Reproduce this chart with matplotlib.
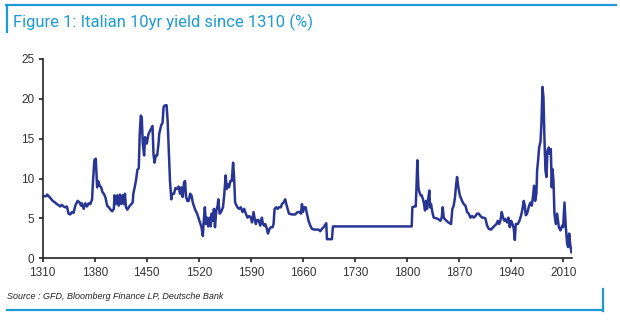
import matplotlib
matplotlib.use("Agg")
import matplotlib.pyplot as plt
from matplotlib.lines import Line2D

# Italian 10yr yield (year, %)
years = [1310, 1315, 1316, 1320, 1323.5, 1326.7, 1329, 1331, 1333.5, 1335.7, 1338, 1340.3,
         1342.5, 1344.8, 1347, 1349.3, 1351.5, 1353.8, 1357, 1359.7, 1361.5, 1362.8, 1365.1,
         1367.4, 1369.6, 1371.9, 1374.1, 1376.4, 1377.7, 1379.5, 1381.4, 1382.3, 1383.2,
         1384.5, 1386.8, 1388.6, 1390.4, 1392.2, 1394.5, 1396.7, 1399, 1401.2, 1403.5,
         1405.7, 1406.6, 1408.4, 1410.3, 1412.1, 1413.9, 1415.7, 1417.5, 1419.3, 1420.6,
         1422, 1423.8, 1426.5, 1429.2, 1431, 1431.9, 1433.7, 1435.5, 1437.4, 1439.2, 1440.5,
         1441.9, 1443.2, 1444.6, 1446.4, 1447.7, 1450, 1452.3, 1454.5, 1457.7, 1459, 1460.4,
         1462.2, 1464, 1465.8, 1466.7, 1469.4, 1471.2, 1472.6, 1474.8, 1476.6, 1478, 1479.4,
         1481.2, 1483, 1483.9, 1486.6, 1488.4, 1490.6, 1492.9, 1494.7, 1496.5, 1498.3,
         1500.1, 1501.5, 1502.8, 1504.6, 1506.4, 1508.3, 1510.1, 1511.9, 1514.6, 1517.7,
         1520.9, 1523.6, 1525.4, 1526.3, 1528.1, 1529.5, 1530.8, 1532.6, 1534.4, 1535.8,
         1537.2, 1539, 1540.3, 1541.7, 1543.5, 1545.3, 1546.2, 1548, 1549.8, 1552.5, 1554.3,
         1556.1, 1557.5, 1558.8, 1560.6, 1562.4, 1564.3, 1566.1, 1567.4, 1568.8, 1571.9,
         1574.2, 1576.5, 1578.7, 1581, 1583.2, 1585.5, 1587.7, 1590, 1591.5, 1593.6, 1595.4,
         1596.7, 1598.1, 1600.3, 1602.6, 1604.8, 1606.2, 1607.9, 1609.3, 1611.5, 1612.9,
         1615.1, 1616.9, 1619.2, 1620.5, 1621.9, 1624.1, 1625.9, 1627.7, 1630.4, 1631.7,
         1634, 1636.2, 1637.6, 1639.4, 1641.2, 1645.2, 1649.7, 1652.8, 1655.5, 1657.3,
         1658.7, 1660, 1661.8, 1663.6, 1665.4, 1667.6, 1669.9, 1672.1, 1675.3, 1681.1,
         1683.3, 1685.6, 1687.8, 1691.4, 1692.3, 1699, 1700.4, 1806.3, 1807.2, 1809.9,
         1811.7, 1812.6, 1813.9, 1815.3, 1816.6, 1818.4, 1819.7, 1821.5, 1822.9, 1824.2,
         1825.6, 1826.9, 1828.7, 1830.1, 1831, 1832.3, 1834.1, 1835.9, 1839.9, 1842.2,
         1844.9, 1846.7, 1848, 1849.4, 1852, 1855.6, 1859.2, 1861, 1862.8, 1864.6, 1866,
         1867.3, 1869.1, 1871, 1874, 1876.3, 1878.6, 1880.8, 1883, 1885.3, 1887.5, 1889.7,
         1892, 1894.2, 1896.5, 1898.7, 1901, 1903.2, 1905.4, 1907.7, 1909.9, 1913.1, 1915.8,
         1918, 1920.3, 1922.1, 1923.9, 1925.6, 1927.4, 1929.2, 1931, 1932.8, 1934.6, 1936.4,
         1938.2, 1940, 1941.8, 1943.6, 1945, 1946.3, 1949, 1951.2, 1953.5, 1955.3, 1957,
         1958.4, 1959.7, 1961.5, 1964.2, 1966, 1967.8, 1969.6, 1970.9, 1972.3, 1974, 1975,
         1976.3, 1977.7, 1979.5, 1980.8, 1982.2, 1983.5, 1984.9, 1986.2, 1987.6, 1988.9,
         1990.7, 1992, 1993.4, 1994.7, 1995.6, 1997, 1998.3, 2000.1, 2001.9, 2004.2, 2006.4,
         2008.6, 2010, 2011.8, 2013.6, 2015.4, 2016.7, 2018.1, 2019.4, 2021.2]
yld = [7.8, 7.8, 8.0, 7.6, 7.2, 7.0, 6.8, 6.7, 6.5, 6.7, 6.5, 6.4,
       6.5, 5.6, 5.5, 5.8, 5.7, 6.6, 7.2, 7.0, 6.6, 6.9, 6.2,
       6.9, 6.5, 6.9, 6.8, 7.4, 9.7, 12.3, 12.5, 10.6, 8.9,
       9.7, 9.1, 8.9, 8.3, 8.1, 7.6, 6.6, 6.4, 6.1, 5.9,
       6.2, 7.9, 6.8, 7.9, 6.6, 8.0, 6.8, 7.9, 6.8, 8.1,
       6.4, 6.1, 6.5, 6.8, 7.0, 8.1, 8.9, 9.8, 11.1, 11.3, 15.6,
       17.9, 17.7, 14.4, 12.9, 15.2, 14.4, 15.6, 16.0, 16.6, 13.1, 12.0,
       12.9, 12.9, 14.4, 15.6, 16.7, 17.0, 19.0, 19.2, 19.2, 17.3, 13.9,
       9.7, 7.4, 8.1, 8.1, 8.8, 8.7, 9.0, 8.1, 8.9, 7.7,
       9.5, 9.7, 7.7, 7.2, 7.2, 8.1, 7.9, 7.0, 6.2, 5.6,
       4.7, 3.9, 2.8, 4.3, 6.4, 4.3, 5.1, 4.0, 5.1, 4.0,
       5.6, 4.7, 6.2, 3.9, 6.0, 6.6, 7.4, 5.6, 5.8, 6.4, 8.1,
       10.4, 8.7, 9.3, 8.9, 9.7, 9.7, 12.0, 10.2, 7.0, 6.4,
       6.2, 6.4, 5.8, 6.2, 5.6, 5.1, 5.3, 5.1, 4.5, 5.8, 4.8,
       4.3, 4.8, 4.8, 4.1, 5.1, 4.3, 4.1, 4.3, 3.7, 3.1,
       3.7, 3.9, 3.9, 4.3, 6.2, 6.4, 6.2, 6.4, 6.4, 6.8,
       7.0, 7.4, 6.8, 6.2, 5.6, 5.5, 5.5, 5.8, 5.8, 5.6,
       6.8, 5.8, 6.4, 6.4, 5.6, 4.7, 4.1, 3.7, 3.6, 3.6,
       3.4, 3.7, 3.9, 4.4, 2.4, 2.4, 4.0, 4.0, 6.4, 6.5,
       6.5, 8.5, 12.3, 8.9, 8.3, 7.9, 7.9, 7.4, 6.8, 6.0,
       7.2, 6.2, 7.6, 8.5, 6.4, 6.8, 5.8, 5.1, 5.0, 4.9,
       4.7, 5.1, 6.4, 5.1, 4.8, 4.5, 4.3, 6.2, 6.6, 7.7, 9.2,
       10.2, 8.9, 7.9, 7.2, 6.8, 6.6, 5.8, 5.6, 5.1, 5.3, 5.1,
       5.3, 5.6, 5.6, 5.3, 5.1, 5.1, 5.0, 4.1, 3.7, 3.6, 3.9,
       4.1, 4.3, 4.7, 4.3, 4.7, 5.8, 5.1, 4.7, 4.9, 4.5, 5.1,
       3.9, 4.7, 4.3, 3.7, 2.3, 4.3, 4.3, 4.7, 5.4, 6.2, 7.2,
       6.6, 5.4, 5.6, 6.6, 7.0, 6.6, 7.9, 9.1, 7.2, 8.1, 11.0,
       12.3, 13.9, 14.6, 16.9, 21.5, 20.2, 14.8, 11.0, 10.2, 13.5,
       13.9, 13.1, 13.7, 8.9, 11.2, 9.7, 5.6, 4.3, 5.6, 3.9, 3.5,
       4.1, 3.9, 7.0, 3.9, 1.8, 1.4, 3.1, 1.8, 0.75]

xticks = [1310, 1380, 1450, 1520, 1590, 1660, 1730, 1800, 1870, 1940, 2010]
yticks = [0, 5, 10, 15, 20, 25]

title = "Figure 1: Italian 10yr yield since 1310 (%)"
source = "Source : GFD, Bloomberg Finance LP, Deutsche Bank"

W, H = 620, 321
fig = plt.figure(figsize=(W / 100, H / 100), dpi=100)
ax = fig.add_axes([42.7 / W, 1 - 258.3 / H, (571.7 - 42.7) / W, (258.3 - 59) / H])

ax.plot(years, yld, color="#283593", linewidth=1.8, solid_joinstyle="round")

ax.set_xlim(1310, 2021.5)
ax.set_ylim(0, 25)
ax.set_xticks(xticks)
ax.set_yticks(yticks)
for s in ["top", "right"]:
    ax.spines[s].set_visible(False)
for s in ["left", "bottom"]:
    ax.spines[s].set_color("#222222")
    ax.spines[s].set_linewidth(1.2)
ax.tick_params(direction="out", length=3, width=1.2, color="#222222",
               labelsize=8.5, labelcolor="#333333", pad=3)
for lab in ax.get_xticklabels() + ax.get_yticklabels():
    lab.set_family("Liberation Sans")

# frame lines and texts in pixel coords
blue = "#1e9ad6"
def px(x, y):
    return x / W, 1 - y / H

fig.add_artist(Line2D([px(6, 5)[0], px(616, 5)[0]], [px(6, 5)[1]] * 2, color=blue, lw=1.6))
fig.add_artist(Line2D([px(6.5, 0)[0]] * 2, [px(0, 4.5)[1], px(0, 32)[1]], color=blue, lw=1.6))
fig.add_artist(Line2D([px(7, 0)[0], px(603, 0)[0]], [px(0, 310)[1]] * 2, color=blue, lw=1.6))
fig.add_artist(Line2D([px(603, 0)[0]] * 2, [px(0, 289)[1], px(0, 310.5)[1]], color=blue, lw=1.6))

fig.text(*px(13, 22.7), title, color=blue, fontsize=12, family="Roboto",
         ha="left", va="center")
fig.text(*px(7, 296.7), source, color="#222222", fontsize=6.5, family="Liberation Sans",
         style="italic", ha="left", va="center")

fig.savefig("out.png", dpi=100)
